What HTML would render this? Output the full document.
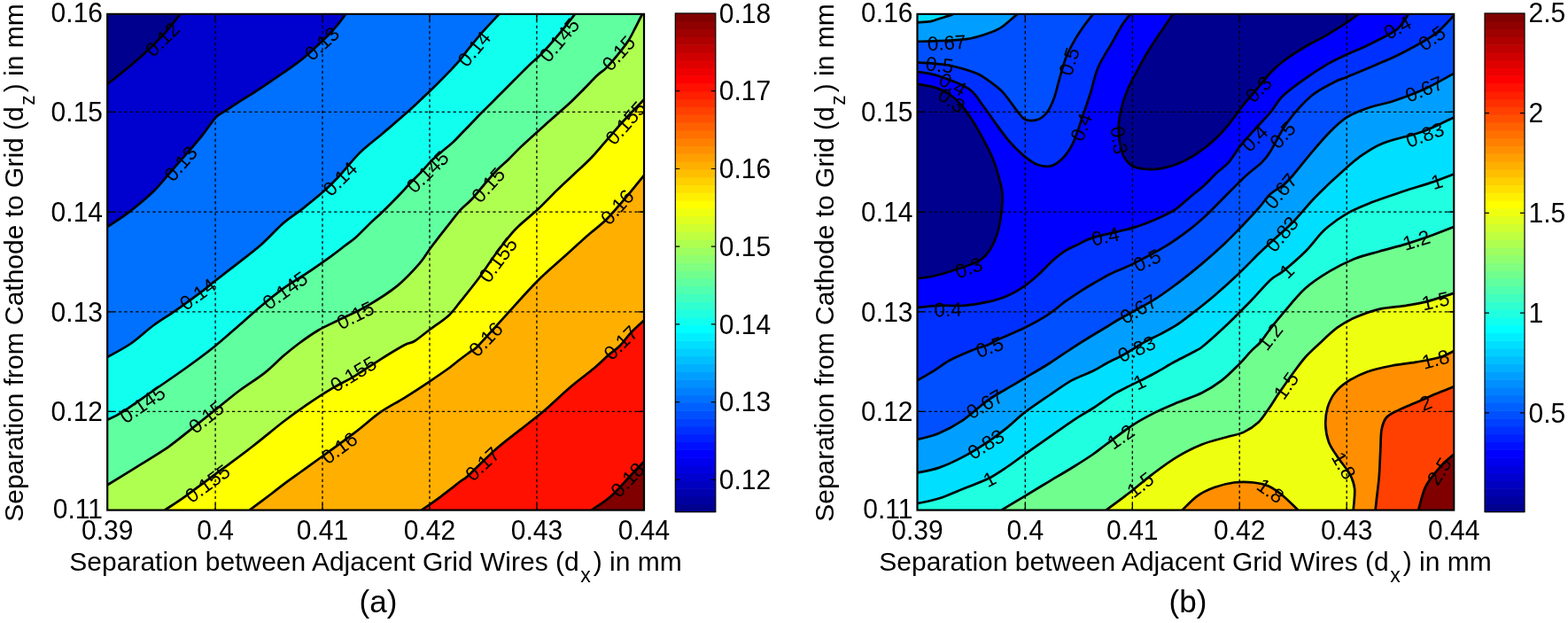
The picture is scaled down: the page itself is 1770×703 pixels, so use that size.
<!DOCTYPE html>
<html><head><meta charset="utf-8"><title>Contour plots</title>
<style>
html,body{margin:0;padding:0;background:#fff;}
body{width:1770px;height:703px;overflow:hidden;}
svg{display:block;}
.t{font-family:'Liberation Sans', Arial, Helvetica, sans-serif;font-size:30px;fill:#000;}
.p{font-family:'Liberation Sans', Arial, Helvetica, sans-serif;font-size:35px;fill:#000;}
.cl{font-family:'Liberation Sans', Arial, Helvetica, sans-serif;font-size:22.5px;fill:#000;text-anchor:middle;}
</style></head><body>
<svg width="1770" height="703" viewBox="0 0 1770 703">
<rect width="1770" height="703" fill="#fff"/>
<clipPath id="ca"><rect x="121.2" y="15.9" width="605.8" height="559.7"/></clipPath>
<g clip-path="url(#ca)">
<rect x="121.2" y="15.9" width="605.8" height="559.7" fill="#00008f"/>
<path d="M121.2 94.9 C125.1 91.8 137.4 82.2 144.7 76.2 C152 70.2 158.1 65 164.8 58.8 C171.5 52.5 178.3 45.9 184.8 38.7 C191.3 31.6 200.5 19.7 203.6 15.9 L727 15.9 L727 575.6 L121.2 575.6 Z" fill="#0000cf"/>
<path d="M121.2 256 C125.3 253.2 137 246.1 145.7 239.4 C154.4 232.7 166.1 222.9 173.5 215.8 C180.9 208.7 183.8 204.2 190.1 197 C196.4 189.8 205.3 179.6 211.6 172.4 C217.8 165.2 222.2 160.4 227.6 153.7 C232.9 147 239.5 136.9 243.7 132.3 C247.9 127.7 249 128.7 253 126 C257 123.3 261.7 120.1 267.7 116.3 C273.7 112.5 282.9 106.9 289.1 102.9 C295.4 98.9 300.1 95.7 305.2 92.2 C310.3 88.7 315.2 85.3 320 82 C324.8 78.7 329.4 75.6 334 72.2 C338.6 68.8 341.1 67.1 347.4 61.5 C353.6 55.9 365.7 44.5 371.5 38.7 C377.3 32.9 379.1 30.5 382.2 26.7 C385.3 22.9 388.9 17.7 390.2 15.9 L727 15.9 L727 575.6 L121.2 575.6 Z" fill="#0070ff"/>
<path d="M121.2 403 C125.7 400.4 139.3 393.5 148 387.5 C156.7 381.5 165.1 373.2 173.5 367 C181.9 360.8 189.2 356.8 198.4 350.3 C207.7 343.8 221.6 333.7 229 328.1 C236.4 322.6 236.3 322.1 242.8 317 C249.3 311.9 259 304.5 267.8 297.6 C276.6 290.7 287 282.9 295.5 275.4 C304 267.9 311.6 259 319 252.5 C326.4 246 333 242.2 340.2 236.6 C347.4 230.9 355.5 224.6 362.4 218.6 C369.3 212.6 374.2 208 381.5 200.3 C388.8 192.6 397.6 180.8 406.2 172.4 C414.8 164 423.9 157.5 433 149.7 C442.1 141.9 452.5 133.2 461 125.6 C469.5 118 476.4 111.3 483.8 104.2 C491.2 97.1 499.2 89.1 505.2 82.9 C511.2 76.7 516.5 70.8 520 66.8 C523.5 62.8 521.9 63.9 526 58.8 C530.1 53.7 538.5 43.2 544.7 36.1 C551 29 560.4 19.3 563.5 15.9 L727 15.9 L727 575.6 L121.2 575.6 Z" fill="#10ffef"/>
<path d="M121.2 473.8 C123.9 472.4 128.7 470.9 137.4 465.4 C146.1 459.8 161.5 448.8 173.5 440.5 C185.5 432.2 197.9 423.8 209.5 415.5 C221.1 407.2 232.2 399.1 242.8 390.5 C253.4 381.9 264.5 371.8 273.3 364.2 C282.1 356.6 287.7 351.3 295.5 344.8 C303.3 338.3 311.6 331.4 320 325.4 C328.4 319.4 336.8 314.7 345.7 308.7 C354.6 302.7 366.1 294.6 373.5 289.3 C380.9 284 385.4 280.3 390 276.8 C394.6 273.3 396.7 272.3 401.2 268.3 C405.7 264.3 412.1 257.5 416.9 252.9 C421.7 248.3 425.9 244.6 429.8 240.9 C433.7 237.2 436.9 234.2 440.5 230.5 C444.1 226.8 447.8 223.2 451.7 219 C455.6 214.8 460.1 209.7 464.1 205.5 C468.1 201.3 471.7 198.1 475.5 194.1 C479.3 190.1 483.1 185.4 486.9 181.6 C490.7 177.8 494.1 175 498.3 171.4 C502.5 167.8 507.9 163.7 511.9 160 C515.9 156.3 518.8 152.8 522 149.5 C525.2 146.2 527.6 143.8 531.3 140 C535 136.2 539.8 131.1 544.1 126.8 C548.4 122.5 552.7 118.3 557 114 C561.3 109.7 565.2 105.7 569.7 101.2 C574.2 96.7 579.2 91.7 584 86.9 C588.8 82.2 593.7 77 598.2 72.7 C602.7 68.4 605.2 67.1 611 61 C616.8 54.9 626.7 43.6 633 36.1 C639.3 28.6 646.3 19.3 649 15.9 L727 15.9 L727 575.6 L121.2 575.6 Z" fill="#60ff9f"/>
<path d="M121.2 547.3 C127.6 543.4 148.1 530.9 159.6 523.7 C171.1 516.5 180.8 510.8 190.1 504.3 C199.3 497.8 206.3 491.8 215.1 484.9 C223.9 478 233.6 470.1 242.8 462.7 C252.1 455.3 261.4 447.4 270.6 440.5 C279.9 433.6 290.1 427.6 298.3 421.1 C306.5 414.6 313.5 407.2 320 401.6 C326.5 396 330.9 392.4 337.5 387.5 C344.1 382.6 352.2 376.9 359.6 372.5 C367 368.1 372.6 366 381.8 361.4 C391.1 356.8 404 351.3 415.1 344.8 C426.2 338.3 438.7 330.5 448.4 322.6 C458.1 314.7 466.8 305 473.3 297.6 C479.8 290.2 481.6 285.6 487.2 278.2 C492.8 270.8 501.1 260.2 506.6 253.3 C512.1 246.4 515.8 241.2 520 236.6 C524.2 232 527.6 230.1 531.9 225.5 C536.2 220.9 541.3 214.4 546 209 C550.7 203.6 555.3 197.9 560 193 C564.7 188.1 569.5 184.3 574.2 179.7 C578.9 175.1 583.2 170.4 588.4 165.4 C593.6 160.4 600.3 154.5 605.5 149.8 C610.7 145.1 615.4 140.8 619.7 137 C624 133.2 626.8 130.8 631.1 127 C635.4 123.2 641 118.3 645.3 114.2 C649.6 110.1 652.3 107.3 657.1 102.5 C661.9 97.7 669.7 89.4 674.2 85.1 C678.8 80.8 680.7 80.3 684.4 76.6 C688.1 72.9 692.4 67.7 696.4 62.9 C700.4 58.1 704.9 52.7 708.3 47.6 C711.7 42.5 714.2 37.1 716.8 32.2 C719.4 27.4 722.2 21.2 723.7 18.5 C725.2 15.8 725.2 16.3 725.5 15.9 L727 15.9 L727 575.6 L121.2 575.6 Z" fill="#afff50"/>
<path d="M186 575.6 C189.9 573 198.7 567.5 209.5 559.8 C220.3 552.1 238.6 538.5 251.1 529.2 C263.6 520 272.9 513.2 284.4 504.3 C295.9 495.4 309.8 483.7 320 475.8 C330.2 467.9 336.8 463.2 345.7 457.1 C354.6 451 364.2 444.7 373.5 439.1 C382.8 433.6 391.9 429.4 401.2 423.8 C410.4 418.2 419.8 411.6 429 405.8 C438.2 400 450.2 392.7 456.7 389.2 C463.2 385.7 463.2 387.8 467.8 385 C472.4 382.2 477.9 377.4 484.4 372.5 C490.9 367.6 500.7 361.3 506.6 355.9 C512.5 350.5 514.4 346.8 520 339.9 C525.6 333 533.6 323.2 540.2 314.3 C546.8 305.4 552.7 295.8 559.6 286.5 C566.5 277.2 573.9 267.1 581.8 258.8 C589.7 250.5 598.9 244 606.8 236.6 C614.7 229.2 622.2 221 629 214.4 C635.8 207.8 641 203.1 647.5 197 C654 190.9 661.2 184.6 667.7 177.8 C674.2 171 680.1 163.5 686.4 156.4 C692.6 149.3 698.4 142.3 705.2 135 C712 127.7 723.4 116.1 727 112.3 L727 575.6 Z" fill="#ffff00"/>
<path d="M281.7 575.6 C285.9 572.5 300.2 561.8 306.6 557 C313 552.2 314.4 550.8 320 546.6 C325.6 542.4 332.7 537.4 340.2 532 C347.7 526.6 355 521.4 365.2 514 C375.4 506.6 390.6 495.7 401.2 487.6 C411.8 479.5 419.8 471.9 429 465.4 C438.2 458.9 447.5 454.6 456.7 448.8 C465.9 443 476.1 436.4 484.4 430.8 C492.7 425.2 500.7 419.8 506.6 415.5 C512.5 411.2 515.8 408.2 520 405 C524.2 401.8 528.6 398.6 531.9 396.1 C535.2 393.6 533.1 397.2 540 390 C546.9 382.8 562.4 365.3 573.5 353.1 C584.6 340.9 596.2 327.6 606.8 317 C617.4 306.4 627.6 298.1 637.3 289.3 C647 280.5 657.1 271.2 665 264.3 C672.9 257.4 677.5 254.6 684.4 247.7 C691.3 240.8 699.5 231 706.6 222.7 C713.7 214.4 723.6 202 727 197.8 L727 575.6 Z" fill="#ffaf00"/>
<path d="M476.1 575.6 C479.8 573 491 565.2 498.3 559.8 C505.6 554.4 514.9 546.9 520 543 C525.1 539.1 522.5 542.2 529.1 536.2 C535.7 530.2 549.9 515.5 559.6 507 C569.3 498.4 578 492.3 587.3 484.9 C596.5 477.5 605.9 470.6 615.1 462.7 C624.4 454.8 633.5 445.6 642.8 437.7 C652 429.8 663.2 421.7 670.6 415.5 C678 409.3 682.3 404.6 687.2 400.3 C692.1 396.1 695.8 394.2 700 390 C704.2 385.8 707.7 380.1 712.2 375.3 C716.7 370.5 724.5 363.7 727 361.4 L727 575.6 Z" fill="#ff1000"/>
<path d="M667.8 575.6 C671.5 573 682.6 566.4 690 559.8 C697.4 553.2 706 542.7 712.2 536.2 C718.4 529.7 724.5 523.5 727 520.9 L727 575.6 Z" fill="#800000"/>
<path d="M243.1 15.9V575.6M364 15.9V575.6M485 15.9V575.6M605.9 15.9V575.6M121.2 126.4H727M121.2 239.1H727M121.2 351.8H727M121.2 464.4H727" stroke="#000" stroke-width="1.3" stroke-dasharray="3.2 3.2" fill="none"/>
<path d="M121.2 94.9 C125.1 91.8 137.4 82.2 144.7 76.2 C152 70.2 158.1 65 164.8 58.8 C171.5 52.5 178.3 45.9 184.8 38.7 C191.3 31.6 200.5 19.7 203.6 15.9 M121.2 256 C125.3 253.2 137 246.1 145.7 239.4 C154.4 232.7 166.1 222.9 173.5 215.8 C180.9 208.7 183.8 204.2 190.1 197 C196.4 189.8 205.3 179.6 211.6 172.4 C217.8 165.2 222.2 160.4 227.6 153.7 C232.9 147 239.5 136.9 243.7 132.3 C247.9 127.7 249 128.7 253 126 C257 123.3 261.7 120.1 267.7 116.3 C273.7 112.5 282.9 106.9 289.1 102.9 C295.4 98.9 300.1 95.7 305.2 92.2 C310.3 88.7 315.2 85.3 320 82 C324.8 78.7 329.4 75.6 334 72.2 C338.6 68.8 341.1 67.1 347.4 61.5 C353.6 55.9 365.7 44.5 371.5 38.7 C377.3 32.9 379.1 30.5 382.2 26.7 C385.3 22.9 388.9 17.7 390.2 15.9 M121.2 403 C125.7 400.4 139.3 393.5 148 387.5 C156.7 381.5 165.1 373.2 173.5 367 C181.9 360.8 189.2 356.8 198.4 350.3 C207.7 343.8 221.6 333.7 229 328.1 C236.4 322.6 236.3 322.1 242.8 317 C249.3 311.9 259 304.5 267.8 297.6 C276.6 290.7 287 282.9 295.5 275.4 C304 267.9 311.6 259 319 252.5 C326.4 246 333 242.2 340.2 236.6 C347.4 230.9 355.5 224.6 362.4 218.6 C369.3 212.6 374.2 208 381.5 200.3 C388.8 192.6 397.6 180.8 406.2 172.4 C414.8 164 423.9 157.5 433 149.7 C442.1 141.9 452.5 133.2 461 125.6 C469.5 118 476.4 111.3 483.8 104.2 C491.2 97.1 499.2 89.1 505.2 82.9 C511.2 76.7 516.5 70.8 520 66.8 C523.5 62.8 521.9 63.9 526 58.8 C530.1 53.7 538.5 43.2 544.7 36.1 C551 29 560.4 19.3 563.5 15.9 M121.2 473.8 C123.9 472.4 128.7 470.9 137.4 465.4 C146.1 459.8 161.5 448.8 173.5 440.5 C185.5 432.2 197.9 423.8 209.5 415.5 C221.1 407.2 232.2 399.1 242.8 390.5 C253.4 381.9 264.5 371.8 273.3 364.2 C282.1 356.6 287.7 351.3 295.5 344.8 C303.3 338.3 311.6 331.4 320 325.4 C328.4 319.4 336.8 314.7 345.7 308.7 C354.6 302.7 366.1 294.6 373.5 289.3 C380.9 284 385.4 280.3 390 276.8 C394.6 273.3 396.7 272.3 401.2 268.3 C405.7 264.3 412.1 257.5 416.9 252.9 C421.7 248.3 425.9 244.6 429.8 240.9 C433.7 237.2 436.9 234.2 440.5 230.5 C444.1 226.8 447.8 223.2 451.7 219 C455.6 214.8 460.1 209.7 464.1 205.5 C468.1 201.3 471.7 198.1 475.5 194.1 C479.3 190.1 483.1 185.4 486.9 181.6 C490.7 177.8 494.1 175 498.3 171.4 C502.5 167.8 507.9 163.7 511.9 160 C515.9 156.3 518.8 152.8 522 149.5 C525.2 146.2 527.6 143.8 531.3 140 C535 136.2 539.8 131.1 544.1 126.8 C548.4 122.5 552.7 118.3 557 114 C561.3 109.7 565.2 105.7 569.7 101.2 C574.2 96.7 579.2 91.7 584 86.9 C588.8 82.2 593.7 77 598.2 72.7 C602.7 68.4 605.2 67.1 611 61 C616.8 54.9 626.7 43.6 633 36.1 C639.3 28.6 646.3 19.3 649 15.9 M121.2 547.3 C127.6 543.4 148.1 530.9 159.6 523.7 C171.1 516.5 180.8 510.8 190.1 504.3 C199.3 497.8 206.3 491.8 215.1 484.9 C223.9 478 233.6 470.1 242.8 462.7 C252.1 455.3 261.4 447.4 270.6 440.5 C279.9 433.6 290.1 427.6 298.3 421.1 C306.5 414.6 313.5 407.2 320 401.6 C326.5 396 330.9 392.4 337.5 387.5 C344.1 382.6 352.2 376.9 359.6 372.5 C367 368.1 372.6 366 381.8 361.4 C391.1 356.8 404 351.3 415.1 344.8 C426.2 338.3 438.7 330.5 448.4 322.6 C458.1 314.7 466.8 305 473.3 297.6 C479.8 290.2 481.6 285.6 487.2 278.2 C492.8 270.8 501.1 260.2 506.6 253.3 C512.1 246.4 515.8 241.2 520 236.6 C524.2 232 527.6 230.1 531.9 225.5 C536.2 220.9 541.3 214.4 546 209 C550.7 203.6 555.3 197.9 560 193 C564.7 188.1 569.5 184.3 574.2 179.7 C578.9 175.1 583.2 170.4 588.4 165.4 C593.6 160.4 600.3 154.5 605.5 149.8 C610.7 145.1 615.4 140.8 619.7 137 C624 133.2 626.8 130.8 631.1 127 C635.4 123.2 641 118.3 645.3 114.2 C649.6 110.1 652.3 107.3 657.1 102.5 C661.9 97.7 669.7 89.4 674.2 85.1 C678.8 80.8 680.7 80.3 684.4 76.6 C688.1 72.9 692.4 67.7 696.4 62.9 C700.4 58.1 704.9 52.7 708.3 47.6 C711.7 42.5 714.2 37.1 716.8 32.2 C719.4 27.4 722.2 21.2 723.7 18.5 C725.2 15.8 725.2 16.3 725.5 15.9 M186 575.6 C189.9 573 198.7 567.5 209.5 559.8 C220.3 552.1 238.6 538.5 251.1 529.2 C263.6 520 272.9 513.2 284.4 504.3 C295.9 495.4 309.8 483.7 320 475.8 C330.2 467.9 336.8 463.2 345.7 457.1 C354.6 451 364.2 444.7 373.5 439.1 C382.8 433.6 391.9 429.4 401.2 423.8 C410.4 418.2 419.8 411.6 429 405.8 C438.2 400 450.2 392.7 456.7 389.2 C463.2 385.7 463.2 387.8 467.8 385 C472.4 382.2 477.9 377.4 484.4 372.5 C490.9 367.6 500.7 361.3 506.6 355.9 C512.5 350.5 514.4 346.8 520 339.9 C525.6 333 533.6 323.2 540.2 314.3 C546.8 305.4 552.7 295.8 559.6 286.5 C566.5 277.2 573.9 267.1 581.8 258.8 C589.7 250.5 598.9 244 606.8 236.6 C614.7 229.2 622.2 221 629 214.4 C635.8 207.8 641 203.1 647.5 197 C654 190.9 661.2 184.6 667.7 177.8 C674.2 171 680.1 163.5 686.4 156.4 C692.6 149.3 698.4 142.3 705.2 135 C712 127.7 723.4 116.1 727 112.3 M281.7 575.6 C285.9 572.5 300.2 561.8 306.6 557 C313 552.2 314.4 550.8 320 546.6 C325.6 542.4 332.7 537.4 340.2 532 C347.7 526.6 355 521.4 365.2 514 C375.4 506.6 390.6 495.7 401.2 487.6 C411.8 479.5 419.8 471.9 429 465.4 C438.2 458.9 447.5 454.6 456.7 448.8 C465.9 443 476.1 436.4 484.4 430.8 C492.7 425.2 500.7 419.8 506.6 415.5 C512.5 411.2 515.8 408.2 520 405 C524.2 401.8 528.6 398.6 531.9 396.1 C535.2 393.6 533.1 397.2 540 390 C546.9 382.8 562.4 365.3 573.5 353.1 C584.6 340.9 596.2 327.6 606.8 317 C617.4 306.4 627.6 298.1 637.3 289.3 C647 280.5 657.1 271.2 665 264.3 C672.9 257.4 677.5 254.6 684.4 247.7 C691.3 240.8 699.5 231 706.6 222.7 C713.7 214.4 723.6 202 727 197.8 M476.1 575.6 C479.8 573 491 565.2 498.3 559.8 C505.6 554.4 514.9 546.9 520 543 C525.1 539.1 522.5 542.2 529.1 536.2 C535.7 530.2 549.9 515.5 559.6 507 C569.3 498.4 578 492.3 587.3 484.9 C596.5 477.5 605.9 470.6 615.1 462.7 C624.4 454.8 633.5 445.6 642.8 437.7 C652 429.8 663.2 421.7 670.6 415.5 C678 409.3 682.3 404.6 687.2 400.3 C692.1 396.1 695.8 394.2 700 390 C704.2 385.8 707.7 380.1 712.2 375.3 C716.7 370.5 724.5 363.7 727 361.4 M667.8 575.6 C671.5 573 682.6 566.4 690 559.8 C697.4 553.2 706 542.7 712.2 536.2 C718.4 529.7 724.5 523.5 727 520.9" stroke="#000" stroke-width="2.7" fill="none" stroke-linejoin="round"/>
<text class="cl" transform="translate(183.5 44.6) rotate(-45)" x="0" y="7.5">0.12</text>
<text class="cl" transform="translate(363.5 49.4) rotate(-43)" x="0" y="7.5">0.13</text>
<text class="cl" transform="translate(204.1 184.7) rotate(-49)" x="0" y="7.5">0.13</text>
<text class="cl" transform="translate(384 202) rotate(-45)" x="0" y="7.5">0.14</text>
<text class="cl" transform="translate(535.4 55.3) rotate(-50)" x="0" y="7.5">0.14</text>
<text class="cl" transform="translate(631.6 45.4) rotate(-50)" x="0" y="7.5">0.145</text>
<text class="cl" transform="translate(698.5 60.1) rotate(-48)" x="0" y="7.5">0.15</text>
<text class="cl" transform="translate(482.9 194.1) rotate(-44.4)" x="0" y="7.5">0.145</text>
<text class="cl" transform="translate(551.3 208.9) rotate(-48)" x="0" y="7.5">0.15</text>
<text class="cl" transform="translate(706.5 139) rotate(-48.7)" x="0" y="7.5">0.155</text>
<text class="cl" transform="translate(696.9 233.8) rotate(-48.4)" x="0" y="7.5">0.16</text>
<text class="cl" transform="translate(562.4 293.5) rotate(-53.5)" x="0" y="7.5">0.155</text>
<text class="cl" transform="translate(223.4 332.3) rotate(-36)" x="0" y="7.5">0.14</text>
<text class="cl" transform="translate(322 328) rotate(-35.7)" x="0" y="7.5">0.145</text>
<text class="cl" transform="translate(401.2 355.9) rotate(-26.5)" x="0" y="7.5">0.15</text>
<text class="cl" transform="translate(161 456.6) rotate(-34.6)" x="0" y="7.5">0.145</text>
<text class="cl" transform="translate(233.1 471) rotate(-38.7)" x="0" y="7.5">0.15</text>
<text class="cl" transform="translate(399 422.4) rotate(-31)" x="0" y="7.5">0.155</text>
<text class="cl" transform="translate(234.5 545.9) rotate(-36.3)" x="0" y="7.5">0.155</text>
<text class="cl" transform="translate(383.2 505.7) rotate(-36.3)" x="0" y="7.5">0.16</text>
<text class="cl" transform="translate(548.5 383) rotate(-46)" x="0" y="7.5">0.16</text>
<text class="cl" transform="translate(544.9 523.7) rotate(-43.7)" x="0" y="7.5">0.17</text>
<text class="cl" transform="translate(701 387) rotate(-45)" x="0" y="7.5">0.17</text>
<text class="cl" transform="translate(708.6 541.7) rotate(-46.7)" x="0" y="7.5">0.18</text>
</g>
<path d="M243.1 575.6v-7M243.1 15.9v7M364 575.6v-7M364 15.9v7M485 575.6v-7M485 15.9v7M605.9 575.6v-7M605.9 15.9v7M121.2 126.4h7M727 126.4h-7M121.2 239.1h7M727 239.1h-7M121.2 351.8h7M727 351.8h-7M121.2 464.4h7M727 464.4h-7" stroke="#000" stroke-width="1.3" fill="none"/>
<rect x="121.2" y="15.9" width="605.8" height="559.7" fill="none" stroke="#000" stroke-width="2.2"/>
<clipPath id="cb"><rect x="1035.5" y="15.9" width="605.7" height="559.7"/></clipPath>
<g clip-path="url(#cb)">
<rect x="1035.5" y="15.9" width="605.7" height="559.7" fill="#0000ff"/>
<path d="M1035.5 94.9 C1038.9 95.6 1050 97 1056.1 98.9 C1062.2 100.8 1067.1 103.2 1072 106.5 C1076.9 109.8 1081 113.8 1085.5 119 C1090 124.2 1094.8 131.5 1098.8 137.7 C1102.8 143.9 1105.9 149.7 1109.5 156.4 C1113.1 163.1 1117.4 171.2 1120.2 177.8 C1123 184.4 1124.7 189.4 1126.5 196 C1128.3 202.6 1130.6 210 1131.3 217.2 C1132 224.4 1131.3 232 1130.5 239.4 C1129.7 246.8 1128.4 254.7 1126.3 261.6 C1124.2 268.5 1121.7 275.4 1118 281 C1114.3 286.6 1111.5 290.7 1104.1 294.9 C1096.7 299.1 1081.9 303.2 1073.6 306 C1065.3 308.8 1060.5 310.1 1054.2 311.5 C1047.9 312.9 1038.6 313.8 1035.5 314.3 Z" fill="#00008f"/>
<path d="M1533.7 15.9 C1531.5 17.5 1526.1 21.6 1520.3 25.4 C1514.5 29.2 1506.9 34.1 1498.9 38.8 C1490.9 43.5 1480.6 48.4 1472.1 53.5 C1463.6 58.6 1454.4 64.7 1448.1 69.5 C1441.8 74.3 1438.8 77.1 1434 82.2 C1429.2 87.3 1424.4 94.1 1419.2 100.2 C1414 106.3 1408.4 112.3 1403.1 119 C1397.8 125.7 1392.4 133.9 1387.1 140.3 C1381.8 146.8 1376.8 152.3 1371 157.7 C1365.2 163 1358.5 168.2 1352.3 172.4 C1346.1 176.6 1340.3 180.2 1333.6 183.1 C1326.9 186 1319.3 188.6 1312.2 189.8 C1305.1 191.1 1296.8 191.3 1290.8 190.6 C1284.8 189.9 1280.1 188.8 1276.1 185.8 C1272.1 182.8 1269 179.1 1266.8 172.4 C1264.6 165.7 1262.9 153.7 1262.7 145.7 C1262.5 137.7 1263.8 131.4 1265.4 124.3 C1267 117.2 1269.2 110 1272.1 102.9 C1275 95.8 1278.8 89.1 1282.8 81.5 C1286.8 73.9 1291.3 65.5 1296.2 57.5 C1301.1 49.5 1307.5 40.3 1312.2 33.4 C1316.9 26.5 1322.2 18.8 1324.2 15.9 Z" fill="#00008f"/>
<path d="M1276.1 15.9 C1274.5 17.9 1270.1 22.9 1266.8 28 C1263.5 33.1 1260.6 38.8 1256.1 46.8 C1251.5 54.8 1243.7 66.5 1239.5 76.2 C1235.3 85.9 1234 95.7 1231 105 C1228 114.3 1225.1 122.9 1221.8 132.3 C1218.5 141.8 1214.7 154.1 1211.1 161.7 C1207.5 169.3 1204.4 173.6 1200.4 177.8 C1196.4 182 1192 185.8 1187.1 187.1 C1182.2 188.4 1176.3 187.8 1171 185.8 C1165.7 183.8 1160.3 179.6 1155 175.1 C1149.7 170.6 1144.3 165.3 1139 159.1 C1133.7 152.9 1127.8 144.4 1122.9 137.7 C1118 131 1114.4 125.2 1109.5 119 C1104.6 112.8 1102 105.8 1093.5 100.2 C1085 94.6 1068.4 88.7 1058.7 85.5 C1049 82.3 1039.4 81.8 1035.5 81 L1035.5 15.9 Z" fill="#0030ff"/>
<path d="M1233.9 15.9 C1232.3 17.9 1227.8 23.3 1224.5 28 C1221.2 32.7 1217.4 37.9 1213.8 44.1 C1210.2 50.4 1206.2 57.5 1203.1 65.5 C1200 73.5 1197.3 84.6 1195.1 92.2 C1192.9 99.8 1192 105.1 1189.8 110.9 C1187.6 116.7 1184.8 123 1181.7 127 C1178.6 131 1175 133.7 1171 135 C1167 136.3 1161.3 136.3 1157.7 135 C1154.1 133.7 1152.3 130.1 1149.6 127 C1146.9 123.9 1144.7 120.3 1141.6 116.3 C1138.5 112.3 1134.9 106.9 1130.9 102.9 C1126.9 98.9 1121.9 95.4 1117.6 92.2 C1113.3 89 1109.9 86.4 1105 84 C1100.1 81.6 1094.6 79.8 1088.3 78 C1082 76.2 1075.8 74.3 1067 73 C1058.2 71.7 1040.8 70.8 1035.5 70.3 L1035.5 15.9 Z" fill="#0050ff"/>
<path d="M1148.3 15.9 C1146.8 17.2 1142.3 21.3 1139 24 C1135.7 26.7 1132.8 29.7 1128.3 32.1 C1123.8 34.6 1118.5 36.7 1112.2 38.7 C1106 40.7 1099.7 42.9 1090.8 44.1 C1081.9 45.4 1067.9 45.8 1058.7 46.2 C1049.5 46.7 1039.4 46.7 1035.5 46.8 L1035.5 15.9 Z" fill="#009fff"/>
<path d="M1076 15.9 C1075 16.3 1072.4 17.3 1070 18.1 C1067.6 18.9 1064.6 19.7 1061.4 20.7 C1058.2 21.7 1055 23.3 1050.7 24.1 C1046.4 24.9 1038 25.1 1035.5 25.3 L1035.5 15.9 Z" fill="#00dfff"/>
<path d="M1035.5 347 C1039.5 346.6 1051 345.2 1059.7 344.8 C1068.4 344.4 1078.2 345.5 1087.5 344.8 C1096.8 344.1 1106.9 342.5 1115.2 340.6 C1123.5 338.8 1130.5 336.7 1137.4 333.7 C1144.3 330.7 1150.8 326.8 1156.8 322.6 C1162.8 318.4 1168.4 313.3 1173.5 308.7 C1178.6 304.1 1182.7 299 1187.3 294.9 C1191.9 290.8 1196.1 287.1 1201.2 283.8 C1206.3 280.6 1212.4 278 1217.9 275.4 C1223.4 272.8 1224 271.1 1234 268.1 C1244 265.1 1266.1 260.8 1277.8 257.4 C1289.5 254 1296 251.2 1304.1 247.7 C1312.2 244.2 1319.8 240.8 1326.3 236.6 C1332.8 232.4 1337.5 227.3 1343 222.7 C1348.5 218.1 1354.5 213.5 1359.6 208.9 C1364.7 204.3 1368.9 199.3 1373.5 195 C1378.1 190.7 1382.6 188.2 1387.1 183.1 C1391.6 178 1395.1 171.1 1400.4 164.4 C1405.8 157.7 1413.6 149.2 1419.2 143 C1424.8 136.8 1429.2 132.8 1434 127 C1438.8 121.2 1441.8 114.5 1448.1 108.3 C1454.4 102.1 1463.6 95.6 1472.1 89.6 C1480.6 83.6 1490.9 76.9 1498.9 72.2 C1506.9 67.5 1512.7 65.1 1520.3 61.5 C1527.9 57.9 1535 55.5 1544.4 50.8 C1553.8 46.1 1568.9 39.2 1576.5 33.4 C1584.1 27.6 1587.7 18.8 1589.9 15.9 L1641.2 15.9 L1641.2 575.6 L1035.5 575.6 Z" fill="#0030ff"/>
<path d="M1035.5 429.4 C1038.6 427.5 1047.9 422.2 1054.2 418.3 C1060.5 414.4 1066.2 409.7 1073.6 405.8 C1081 401.9 1091.7 397.5 1098.6 394.7 C1105.5 391.9 1110.1 391.3 1115.2 389.2 C1120.3 387.1 1122.2 385.2 1129.1 382 C1136 378.8 1148 374.2 1156.8 369.8 C1165.6 365.4 1173.9 361 1181.8 355.9 C1189.7 350.8 1197.5 343.8 1204 339.2 C1210.5 334.6 1215.6 331.3 1220.6 328.1 C1225.6 324.9 1228.4 323.2 1234 320 C1239.6 316.8 1246.7 312.4 1254.2 308.7 C1261.7 305 1269 302.7 1279.2 297.6 C1289.4 292.5 1304.6 284.7 1315.2 278.2 C1325.8 271.7 1335.1 264.8 1343 258.8 C1350.9 252.8 1355.9 248.2 1362.4 242.2 C1368.9 236.2 1375.8 228.7 1381.8 222.7 C1387.8 216.7 1393.9 210.5 1398.4 206.1 C1402.9 201.7 1404.7 199.8 1409 196 C1413.3 192.2 1420.3 187.3 1424.5 183.1 C1428.7 178.9 1429.2 178.6 1434 171 C1438.8 163.4 1445.7 148.2 1453.4 137.8 C1461.1 127.4 1471.3 115.9 1480.2 108.3 C1489.1 100.7 1500.2 95.9 1506.9 92.3 C1513.6 88.7 1512.7 90 1520.3 86.9 C1527.9 83.8 1542.1 78 1552.4 73.5 C1562.7 69 1570.8 66 1581.9 60.2 C1593.1 54.4 1609.4 45.9 1619.3 38.8 C1629.2 31.7 1637.5 21 1641.2 17.4 L1641.2 575.6 L1035.5 575.6 Z" fill="#0050ff"/>
<path d="M1035.5 496 C1039.5 494.8 1051 492.7 1059.7 489 C1068.4 485.3 1078.2 480 1087.5 473.8 C1096.8 467.6 1106 458.1 1115.2 451.6 C1124.5 445.1 1136.1 439.1 1143 434.9 C1149.9 430.7 1149.9 430.8 1156.8 426.6 C1163.7 422.5 1175.8 415.6 1184.6 410 C1193.4 404.4 1201.3 398.6 1209.5 393.3 C1217.7 388 1227.2 382.1 1234 378 C1240.8 373.9 1245 371.5 1250 368.5 C1255 365.5 1255.2 364.9 1263.7 360 C1272.2 355.1 1290.4 345.9 1301.3 339.2 C1312.2 332.5 1319.8 326.7 1329.1 319.8 C1338.3 312.9 1348 305 1356.8 297.6 C1365.6 290.2 1374.4 282.3 1381.8 275.4 C1389.2 268.5 1394.7 262.7 1401.2 256 C1407.7 249.3 1415.1 241.4 1420.6 235.2 C1426.1 229 1429.3 223.4 1434 219 C1438.7 214.6 1444.4 212.3 1448.6 208.9 C1452.8 205.5 1453.7 204.6 1459 198.5 C1464.3 192.4 1473.1 180.9 1480.2 172.6 C1487.3 164.3 1494.9 155.2 1501.6 148.5 C1508.3 141.8 1513.2 136.9 1520.3 132.4 C1527.4 127.9 1535.5 124.8 1544.4 121.7 C1553.3 118.6 1563.1 117.3 1573.8 113.7 C1584.5 110.1 1597.4 105.4 1608.6 100.3 C1619.8 95.2 1635.8 85.8 1641.2 82.9 L1641.2 575.6 L1035.5 575.6 Z" fill="#009fff"/>
<path d="M1035.5 533.4 C1039.5 532.5 1051 530.9 1059.7 527.9 C1068.4 524.9 1078.2 520.3 1087.5 515.4 C1096.8 510.5 1106.9 504.2 1115.2 498.7 C1123.5 493.1 1130.5 487.7 1137.4 482.1 C1144.3 476.6 1148.9 471.4 1156.8 465.4 C1164.7 459.4 1175.8 452 1184.6 446 C1193.4 440 1201.3 434 1209.5 429.4 C1217.7 424.8 1227.2 421.8 1234 418.5 C1240.8 415.2 1244.5 412.4 1250 409.5 C1255.5 406.6 1262.1 403.7 1267.1 401 C1272.1 398.3 1275.6 395.9 1279.9 393.3 C1284.2 390.7 1287.7 388.3 1292.7 385.6 C1297.7 382.9 1304 380.1 1309.7 377.1 C1315.4 374.1 1321.2 371.2 1326.8 367.7 C1332.3 364.2 1335.7 361.6 1343 355.9 C1350.3 350.2 1361.5 341.6 1370.7 333.7 C1379.9 325.8 1390.1 316.6 1398.4 308.7 C1406.7 300.8 1414.7 292.3 1420.6 286.5 C1426.5 280.7 1427.5 280 1434 274 C1440.5 268 1451.7 258.6 1459.7 250.5 C1467.7 242.4 1475.4 232.4 1481.9 225.5 C1488.4 218.6 1493.8 213.6 1498.6 208.9 C1503.4 204.2 1505.2 202.7 1511 197.5 C1516.8 192.3 1525.5 183.8 1533.7 177.9 C1541.9 172 1548.4 166.8 1560.4 161.9 C1572.4 157 1592.4 153.4 1605.9 148.5 C1619.4 143.6 1635.3 135.1 1641.2 132.4 L1641.2 575.6 L1035.5 575.6 Z" fill="#00dfff"/>
<path d="M1035.5 568.1 C1039.5 567.2 1051 565.3 1059.7 562.5 C1068.4 559.7 1078.2 555.1 1087.5 551.4 C1096.8 547.7 1106.9 544.4 1115.2 540.3 C1123.5 536.1 1130.5 531.1 1137.4 526.5 C1144.3 521.9 1148.9 518.1 1156.8 512.6 C1164.7 507.1 1175.3 499.7 1184.6 493.2 C1193.8 486.7 1204.1 479.2 1212.3 473.8 C1220.5 468.4 1226.1 465.6 1234 460.5 C1241.9 455.4 1250.8 448.5 1259.7 443.3 C1268.6 438.1 1279.9 433.3 1287.5 429.4 C1295.1 425.5 1299 423.6 1305.5 420 C1312 416.4 1319.4 411.8 1326.8 407.8 C1334.2 403.8 1344.5 398.9 1350 395.8 C1355.5 392.7 1353.8 394.3 1360 389 C1366.2 383.7 1378.6 372.5 1387.3 364.2 C1396 355.9 1404.5 347.2 1412.3 339.2 C1420.1 331.2 1428 321.6 1434 316 C1440 310.4 1442 311.3 1448.6 305.9 C1455.2 300.5 1465.7 291.5 1473.6 283.7 C1481.5 275.9 1487.9 265.9 1495.8 258.8 C1503.7 251.7 1511.9 245.9 1520.7 240.8 C1529.5 235.7 1537.9 232.5 1548.5 228.3 C1559.1 224.1 1573.4 219.5 1584.5 215.8 C1595.6 212.1 1605.5 209.3 1615 206.1 C1624.5 202.9 1636.8 198 1641.2 196.4 L1641.2 575.6 L1035.5 575.6 Z" fill="#20ffdf"/>
<path d="M1130.5 575.6 C1134.9 573 1147.8 565.2 1156.8 559.8 C1165.8 554.4 1175.3 548.6 1184.6 543.1 C1193.8 537.6 1204.1 531.6 1212.3 526.5 C1220.5 521.4 1228 516.7 1234 512.5 C1240 508.3 1241.1 507 1248.6 501.5 C1256.1 496 1270 485.3 1279.2 479.3 C1288.5 473.3 1295.8 469.6 1304.1 465.4 C1312.4 461.2 1320.3 458 1329.1 454.3 C1337.9 450.6 1348.5 447.5 1356.8 443.3 C1365.1 439.1 1372.1 434.7 1379 429.4 C1385.9 424.1 1392.9 416.9 1398.4 411.4 C1404 405.8 1408.2 400.3 1412.3 396.1 C1416.4 391.9 1419.4 390.2 1423 386 C1426.6 381.8 1429.7 376.5 1434 371 C1438.3 365.5 1442 360.7 1448.6 353.1 C1455.2 345.5 1464.8 333.2 1473.6 325.3 C1482.4 317.4 1492 311.4 1501.3 305.9 C1510.5 300.4 1519.8 295.8 1529.1 292.1 C1538.3 288.4 1547.1 286.5 1556.8 283.7 C1566.5 280.9 1578 278.2 1587.3 275.4 C1596.5 272.6 1603.3 270.3 1612.3 267.1 C1621.3 263.9 1636.4 257.9 1641.2 256 L1641.2 575.6 Z" fill="#70ff8f"/>
<path d="M1248.6 575.6 C1252.8 572.5 1264.8 563.8 1273.6 557 C1282.4 550.2 1292 541.7 1301.3 534.8 C1310.5 527.9 1319.8 520.9 1329.1 515.4 C1338.3 509.8 1347.5 505.2 1356.8 501.5 C1366 497.8 1376.7 495.5 1384.6 493.2 C1392.5 490.9 1398 490.4 1404 487.6 C1410 484.8 1415.9 480.9 1420.6 476.5 C1425.3 472.1 1428.2 466.8 1432 461.5 C1435.8 456.2 1438.5 451.4 1443.1 444.6 C1447.7 437.9 1454.6 427.9 1459.7 421 C1464.8 414.1 1468.7 408.5 1473.6 403 C1478.5 397.5 1483 393.6 1489 388 C1495 382.4 1502.9 374.6 1509.6 369.7 C1516.3 364.8 1521.2 362.1 1529.1 358.6 C1537 355.1 1547.1 351.2 1556.8 348.9 C1566.5 346.6 1578.5 346.2 1587.3 344.8 C1596.1 343.4 1600.5 342.9 1609.5 340.6 C1618.5 338.3 1635.9 332.5 1641.2 330.9 L1641.2 575.6 Z" fill="#efff10"/>
<path d="M1527.7 575.6 C1527.9 571.6 1529.8 558.2 1529.1 551.4 C1528.4 544.6 1526.8 540.7 1523.5 534.7 C1520.2 528.7 1513.5 521.3 1509.6 515.3 C1505.7 509.3 1502.1 504.7 1499.9 498.7 C1497.7 492.7 1496.5 485.8 1496.3 479.3 C1496.1 472.8 1496.8 465.9 1498.6 459.9 C1500.4 453.9 1503.2 448 1506.9 443.2 C1510.6 438.4 1514.7 434.7 1520.7 430.8 C1526.7 426.9 1534.6 422.7 1542.9 419.7 C1551.2 416.7 1561.5 414.5 1570.7 412.7 C1580 410.9 1589.2 410.2 1598.4 408.6 C1607.6 407 1619 405.1 1626.1 403 C1633.2 400.9 1638.7 397.2 1641.2 396.1 L1641.2 575.6 Z" fill="#ff8f00"/>
<path d="M1334.6 575.6 C1337.4 573 1345.3 564.1 1351.3 559.8 C1357.3 555.5 1363.8 552.5 1370.7 550 C1377.6 547.5 1385.5 545.4 1392.9 544.5 C1400.3 543.6 1408.6 543.8 1415.1 544.5 C1421.6 545.2 1426.4 546.1 1432 548.6 C1437.6 551.1 1443 555.2 1448.6 559.7 C1454.1 564.2 1462.5 573 1465.3 575.6 Z" fill="#ff8f00"/>
<path d="M1552.6 575.6 C1552.8 573.4 1553.3 568.9 1554 562.5 C1554.7 556.1 1556.1 546.3 1556.8 537.5 C1557.5 528.7 1557.7 518.6 1558.2 509.8 C1558.7 501 1558.4 491.3 1559.6 484.8 C1560.8 478.3 1561.9 474.7 1565.1 471 C1568.3 467.3 1573.5 465.4 1579 462.6 C1584.5 459.8 1591.5 457.3 1598.4 454.3 C1605.3 451.3 1613.5 447.6 1620.6 444.6 C1627.7 441.6 1637.8 437.7 1641.2 436.3 L1641.2 575.6 Z" fill="#ff4000"/>
<path d="M1601.2 575.6 C1602.6 571.1 1605.3 556.8 1609.5 548.6 C1613.7 540.4 1620.8 532.4 1626.1 526.4 C1631.4 520.4 1638.7 514.9 1641.2 512.6 L1641.2 575.6 Z" fill="#800000"/>
<path d="M1157.3 15.9V575.6M1278.3 15.9V575.6M1399.2 15.9V575.6M1520.2 15.9V575.6M1035.5 126.4H1641.2M1035.5 239.1H1641.2M1035.5 351.8H1641.2M1035.5 464.4H1641.2" stroke="#000" stroke-width="1.3" stroke-dasharray="3.2 3.2" fill="none"/>
<path d="M1035.5 94.9 C1038.9 95.6 1050 97 1056.1 98.9 C1062.2 100.8 1067.1 103.2 1072 106.5 C1076.9 109.8 1081 113.8 1085.5 119 C1090 124.2 1094.8 131.5 1098.8 137.7 C1102.8 143.9 1105.9 149.7 1109.5 156.4 C1113.1 163.1 1117.4 171.2 1120.2 177.8 C1123 184.4 1124.7 189.4 1126.5 196 C1128.3 202.6 1130.6 210 1131.3 217.2 C1132 224.4 1131.3 232 1130.5 239.4 C1129.7 246.8 1128.4 254.7 1126.3 261.6 C1124.2 268.5 1121.7 275.4 1118 281 C1114.3 286.6 1111.5 290.7 1104.1 294.9 C1096.7 299.1 1081.9 303.2 1073.6 306 C1065.3 308.8 1060.5 310.1 1054.2 311.5 C1047.9 312.9 1038.6 313.8 1035.5 314.3 M1533.7 15.9 C1531.5 17.5 1526.1 21.6 1520.3 25.4 C1514.5 29.2 1506.9 34.1 1498.9 38.8 C1490.9 43.5 1480.6 48.4 1472.1 53.5 C1463.6 58.6 1454.4 64.7 1448.1 69.5 C1441.8 74.3 1438.8 77.1 1434 82.2 C1429.2 87.3 1424.4 94.1 1419.2 100.2 C1414 106.3 1408.4 112.3 1403.1 119 C1397.8 125.7 1392.4 133.9 1387.1 140.3 C1381.8 146.8 1376.8 152.3 1371 157.7 C1365.2 163 1358.5 168.2 1352.3 172.4 C1346.1 176.6 1340.3 180.2 1333.6 183.1 C1326.9 186 1319.3 188.6 1312.2 189.8 C1305.1 191.1 1296.8 191.3 1290.8 190.6 C1284.8 189.9 1280.1 188.8 1276.1 185.8 C1272.1 182.8 1269 179.1 1266.8 172.4 C1264.6 165.7 1262.9 153.7 1262.7 145.7 C1262.5 137.7 1263.8 131.4 1265.4 124.3 C1267 117.2 1269.2 110 1272.1 102.9 C1275 95.8 1278.8 89.1 1282.8 81.5 C1286.8 73.9 1291.3 65.5 1296.2 57.5 C1301.1 49.5 1307.5 40.3 1312.2 33.4 C1316.9 26.5 1322.2 18.8 1324.2 15.9 M1276.1 15.9 C1274.5 17.9 1270.1 22.9 1266.8 28 C1263.5 33.1 1260.6 38.8 1256.1 46.8 C1251.5 54.8 1243.7 66.5 1239.5 76.2 C1235.3 85.9 1234 95.7 1231 105 C1228 114.3 1225.1 122.9 1221.8 132.3 C1218.5 141.8 1214.7 154.1 1211.1 161.7 C1207.5 169.3 1204.4 173.6 1200.4 177.8 C1196.4 182 1192 185.8 1187.1 187.1 C1182.2 188.4 1176.3 187.8 1171 185.8 C1165.7 183.8 1160.3 179.6 1155 175.1 C1149.7 170.6 1144.3 165.3 1139 159.1 C1133.7 152.9 1127.8 144.4 1122.9 137.7 C1118 131 1114.4 125.2 1109.5 119 C1104.6 112.8 1102 105.8 1093.5 100.2 C1085 94.6 1068.4 88.7 1058.7 85.5 C1049 82.3 1039.4 81.8 1035.5 81 M1233.9 15.9 C1232.3 17.9 1227.8 23.3 1224.5 28 C1221.2 32.7 1217.4 37.9 1213.8 44.1 C1210.2 50.4 1206.2 57.5 1203.1 65.5 C1200 73.5 1197.3 84.6 1195.1 92.2 C1192.9 99.8 1192 105.1 1189.8 110.9 C1187.6 116.7 1184.8 123 1181.7 127 C1178.6 131 1175 133.7 1171 135 C1167 136.3 1161.3 136.3 1157.7 135 C1154.1 133.7 1152.3 130.1 1149.6 127 C1146.9 123.9 1144.7 120.3 1141.6 116.3 C1138.5 112.3 1134.9 106.9 1130.9 102.9 C1126.9 98.9 1121.9 95.4 1117.6 92.2 C1113.3 89 1109.9 86.4 1105 84 C1100.1 81.6 1094.6 79.8 1088.3 78 C1082 76.2 1075.8 74.3 1067 73 C1058.2 71.7 1040.8 70.8 1035.5 70.3 M1148.3 15.9 C1146.8 17.2 1142.3 21.3 1139 24 C1135.7 26.7 1132.8 29.7 1128.3 32.1 C1123.8 34.6 1118.5 36.7 1112.2 38.7 C1106 40.7 1099.7 42.9 1090.8 44.1 C1081.9 45.4 1067.9 45.8 1058.7 46.2 C1049.5 46.7 1039.4 46.7 1035.5 46.8 M1076 15.9 C1075 16.3 1072.4 17.3 1070 18.1 C1067.6 18.9 1064.6 19.7 1061.4 20.7 C1058.2 21.7 1055 23.3 1050.7 24.1 C1046.4 24.9 1038 25.1 1035.5 25.3 M1035.5 347 C1039.5 346.6 1051 345.2 1059.7 344.8 C1068.4 344.4 1078.2 345.5 1087.5 344.8 C1096.8 344.1 1106.9 342.5 1115.2 340.6 C1123.5 338.8 1130.5 336.7 1137.4 333.7 C1144.3 330.7 1150.8 326.8 1156.8 322.6 C1162.8 318.4 1168.4 313.3 1173.5 308.7 C1178.6 304.1 1182.7 299 1187.3 294.9 C1191.9 290.8 1196.1 287.1 1201.2 283.8 C1206.3 280.6 1212.4 278 1217.9 275.4 C1223.4 272.8 1224 271.1 1234 268.1 C1244 265.1 1266.1 260.8 1277.8 257.4 C1289.5 254 1296 251.2 1304.1 247.7 C1312.2 244.2 1319.8 240.8 1326.3 236.6 C1332.8 232.4 1337.5 227.3 1343 222.7 C1348.5 218.1 1354.5 213.5 1359.6 208.9 C1364.7 204.3 1368.9 199.3 1373.5 195 C1378.1 190.7 1382.6 188.2 1387.1 183.1 C1391.6 178 1395.1 171.1 1400.4 164.4 C1405.8 157.7 1413.6 149.2 1419.2 143 C1424.8 136.8 1429.2 132.8 1434 127 C1438.8 121.2 1441.8 114.5 1448.1 108.3 C1454.4 102.1 1463.6 95.6 1472.1 89.6 C1480.6 83.6 1490.9 76.9 1498.9 72.2 C1506.9 67.5 1512.7 65.1 1520.3 61.5 C1527.9 57.9 1535 55.5 1544.4 50.8 C1553.8 46.1 1568.9 39.2 1576.5 33.4 C1584.1 27.6 1587.7 18.8 1589.9 15.9 M1035.5 429.4 C1038.6 427.5 1047.9 422.2 1054.2 418.3 C1060.5 414.4 1066.2 409.7 1073.6 405.8 C1081 401.9 1091.7 397.5 1098.6 394.7 C1105.5 391.9 1110.1 391.3 1115.2 389.2 C1120.3 387.1 1122.2 385.2 1129.1 382 C1136 378.8 1148 374.2 1156.8 369.8 C1165.6 365.4 1173.9 361 1181.8 355.9 C1189.7 350.8 1197.5 343.8 1204 339.2 C1210.5 334.6 1215.6 331.3 1220.6 328.1 C1225.6 324.9 1228.4 323.2 1234 320 C1239.6 316.8 1246.7 312.4 1254.2 308.7 C1261.7 305 1269 302.7 1279.2 297.6 C1289.4 292.5 1304.6 284.7 1315.2 278.2 C1325.8 271.7 1335.1 264.8 1343 258.8 C1350.9 252.8 1355.9 248.2 1362.4 242.2 C1368.9 236.2 1375.8 228.7 1381.8 222.7 C1387.8 216.7 1393.9 210.5 1398.4 206.1 C1402.9 201.7 1404.7 199.8 1409 196 C1413.3 192.2 1420.3 187.3 1424.5 183.1 C1428.7 178.9 1429.2 178.6 1434 171 C1438.8 163.4 1445.7 148.2 1453.4 137.8 C1461.1 127.4 1471.3 115.9 1480.2 108.3 C1489.1 100.7 1500.2 95.9 1506.9 92.3 C1513.6 88.7 1512.7 90 1520.3 86.9 C1527.9 83.8 1542.1 78 1552.4 73.5 C1562.7 69 1570.8 66 1581.9 60.2 C1593.1 54.4 1609.4 45.9 1619.3 38.8 C1629.2 31.7 1637.5 21 1641.2 17.4 M1035.5 496 C1039.5 494.8 1051 492.7 1059.7 489 C1068.4 485.3 1078.2 480 1087.5 473.8 C1096.8 467.6 1106 458.1 1115.2 451.6 C1124.5 445.1 1136.1 439.1 1143 434.9 C1149.9 430.7 1149.9 430.8 1156.8 426.6 C1163.7 422.5 1175.8 415.6 1184.6 410 C1193.4 404.4 1201.3 398.6 1209.5 393.3 C1217.7 388 1227.2 382.1 1234 378 C1240.8 373.9 1245 371.5 1250 368.5 C1255 365.5 1255.2 364.9 1263.7 360 C1272.2 355.1 1290.4 345.9 1301.3 339.2 C1312.2 332.5 1319.8 326.7 1329.1 319.8 C1338.3 312.9 1348 305 1356.8 297.6 C1365.6 290.2 1374.4 282.3 1381.8 275.4 C1389.2 268.5 1394.7 262.7 1401.2 256 C1407.7 249.3 1415.1 241.4 1420.6 235.2 C1426.1 229 1429.3 223.4 1434 219 C1438.7 214.6 1444.4 212.3 1448.6 208.9 C1452.8 205.5 1453.7 204.6 1459 198.5 C1464.3 192.4 1473.1 180.9 1480.2 172.6 C1487.3 164.3 1494.9 155.2 1501.6 148.5 C1508.3 141.8 1513.2 136.9 1520.3 132.4 C1527.4 127.9 1535.5 124.8 1544.4 121.7 C1553.3 118.6 1563.1 117.3 1573.8 113.7 C1584.5 110.1 1597.4 105.4 1608.6 100.3 C1619.8 95.2 1635.8 85.8 1641.2 82.9 M1035.5 533.4 C1039.5 532.5 1051 530.9 1059.7 527.9 C1068.4 524.9 1078.2 520.3 1087.5 515.4 C1096.8 510.5 1106.9 504.2 1115.2 498.7 C1123.5 493.1 1130.5 487.7 1137.4 482.1 C1144.3 476.6 1148.9 471.4 1156.8 465.4 C1164.7 459.4 1175.8 452 1184.6 446 C1193.4 440 1201.3 434 1209.5 429.4 C1217.7 424.8 1227.2 421.8 1234 418.5 C1240.8 415.2 1244.5 412.4 1250 409.5 C1255.5 406.6 1262.1 403.7 1267.1 401 C1272.1 398.3 1275.6 395.9 1279.9 393.3 C1284.2 390.7 1287.7 388.3 1292.7 385.6 C1297.7 382.9 1304 380.1 1309.7 377.1 C1315.4 374.1 1321.2 371.2 1326.8 367.7 C1332.3 364.2 1335.7 361.6 1343 355.9 C1350.3 350.2 1361.5 341.6 1370.7 333.7 C1379.9 325.8 1390.1 316.6 1398.4 308.7 C1406.7 300.8 1414.7 292.3 1420.6 286.5 C1426.5 280.7 1427.5 280 1434 274 C1440.5 268 1451.7 258.6 1459.7 250.5 C1467.7 242.4 1475.4 232.4 1481.9 225.5 C1488.4 218.6 1493.8 213.6 1498.6 208.9 C1503.4 204.2 1505.2 202.7 1511 197.5 C1516.8 192.3 1525.5 183.8 1533.7 177.9 C1541.9 172 1548.4 166.8 1560.4 161.9 C1572.4 157 1592.4 153.4 1605.9 148.5 C1619.4 143.6 1635.3 135.1 1641.2 132.4 M1035.5 568.1 C1039.5 567.2 1051 565.3 1059.7 562.5 C1068.4 559.7 1078.2 555.1 1087.5 551.4 C1096.8 547.7 1106.9 544.4 1115.2 540.3 C1123.5 536.1 1130.5 531.1 1137.4 526.5 C1144.3 521.9 1148.9 518.1 1156.8 512.6 C1164.7 507.1 1175.3 499.7 1184.6 493.2 C1193.8 486.7 1204.1 479.2 1212.3 473.8 C1220.5 468.4 1226.1 465.6 1234 460.5 C1241.9 455.4 1250.8 448.5 1259.7 443.3 C1268.6 438.1 1279.9 433.3 1287.5 429.4 C1295.1 425.5 1299 423.6 1305.5 420 C1312 416.4 1319.4 411.8 1326.8 407.8 C1334.2 403.8 1344.5 398.9 1350 395.8 C1355.5 392.7 1353.8 394.3 1360 389 C1366.2 383.7 1378.6 372.5 1387.3 364.2 C1396 355.9 1404.5 347.2 1412.3 339.2 C1420.1 331.2 1428 321.6 1434 316 C1440 310.4 1442 311.3 1448.6 305.9 C1455.2 300.5 1465.7 291.5 1473.6 283.7 C1481.5 275.9 1487.9 265.9 1495.8 258.8 C1503.7 251.7 1511.9 245.9 1520.7 240.8 C1529.5 235.7 1537.9 232.5 1548.5 228.3 C1559.1 224.1 1573.4 219.5 1584.5 215.8 C1595.6 212.1 1605.5 209.3 1615 206.1 C1624.5 202.9 1636.8 198 1641.2 196.4 M1130.5 575.6 C1134.9 573 1147.8 565.2 1156.8 559.8 C1165.8 554.4 1175.3 548.6 1184.6 543.1 C1193.8 537.6 1204.1 531.6 1212.3 526.5 C1220.5 521.4 1228 516.7 1234 512.5 C1240 508.3 1241.1 507 1248.6 501.5 C1256.1 496 1270 485.3 1279.2 479.3 C1288.5 473.3 1295.8 469.6 1304.1 465.4 C1312.4 461.2 1320.3 458 1329.1 454.3 C1337.9 450.6 1348.5 447.5 1356.8 443.3 C1365.1 439.1 1372.1 434.7 1379 429.4 C1385.9 424.1 1392.9 416.9 1398.4 411.4 C1404 405.8 1408.2 400.3 1412.3 396.1 C1416.4 391.9 1419.4 390.2 1423 386 C1426.6 381.8 1429.7 376.5 1434 371 C1438.3 365.5 1442 360.7 1448.6 353.1 C1455.2 345.5 1464.8 333.2 1473.6 325.3 C1482.4 317.4 1492 311.4 1501.3 305.9 C1510.5 300.4 1519.8 295.8 1529.1 292.1 C1538.3 288.4 1547.1 286.5 1556.8 283.7 C1566.5 280.9 1578 278.2 1587.3 275.4 C1596.5 272.6 1603.3 270.3 1612.3 267.1 C1621.3 263.9 1636.4 257.9 1641.2 256 M1248.6 575.6 C1252.8 572.5 1264.8 563.8 1273.6 557 C1282.4 550.2 1292 541.7 1301.3 534.8 C1310.5 527.9 1319.8 520.9 1329.1 515.4 C1338.3 509.8 1347.5 505.2 1356.8 501.5 C1366 497.8 1376.7 495.5 1384.6 493.2 C1392.5 490.9 1398 490.4 1404 487.6 C1410 484.8 1415.9 480.9 1420.6 476.5 C1425.3 472.1 1428.2 466.8 1432 461.5 C1435.8 456.2 1438.5 451.4 1443.1 444.6 C1447.7 437.9 1454.6 427.9 1459.7 421 C1464.8 414.1 1468.7 408.5 1473.6 403 C1478.5 397.5 1483 393.6 1489 388 C1495 382.4 1502.9 374.6 1509.6 369.7 C1516.3 364.8 1521.2 362.1 1529.1 358.6 C1537 355.1 1547.1 351.2 1556.8 348.9 C1566.5 346.6 1578.5 346.2 1587.3 344.8 C1596.1 343.4 1600.5 342.9 1609.5 340.6 C1618.5 338.3 1635.9 332.5 1641.2 330.9 M1527.7 575.6 C1527.9 571.6 1529.8 558.2 1529.1 551.4 C1528.4 544.6 1526.8 540.7 1523.5 534.7 C1520.2 528.7 1513.5 521.3 1509.6 515.3 C1505.7 509.3 1502.1 504.7 1499.9 498.7 C1497.7 492.7 1496.5 485.8 1496.3 479.3 C1496.1 472.8 1496.8 465.9 1498.6 459.9 C1500.4 453.9 1503.2 448 1506.9 443.2 C1510.6 438.4 1514.7 434.7 1520.7 430.8 C1526.7 426.9 1534.6 422.7 1542.9 419.7 C1551.2 416.7 1561.5 414.5 1570.7 412.7 C1580 410.9 1589.2 410.2 1598.4 408.6 C1607.6 407 1619 405.1 1626.1 403 C1633.2 400.9 1638.7 397.2 1641.2 396.1 M1334.6 575.6 C1337.4 573 1345.3 564.1 1351.3 559.8 C1357.3 555.5 1363.8 552.5 1370.7 550 C1377.6 547.5 1385.5 545.4 1392.9 544.5 C1400.3 543.6 1408.6 543.8 1415.1 544.5 C1421.6 545.2 1426.4 546.1 1432 548.6 C1437.6 551.1 1443 555.2 1448.6 559.7 C1454.1 564.2 1462.5 573 1465.3 575.6 M1552.6 575.6 C1552.8 573.4 1553.3 568.9 1554 562.5 C1554.7 556.1 1556.1 546.3 1556.8 537.5 C1557.5 528.7 1557.7 518.6 1558.2 509.8 C1558.7 501 1558.4 491.3 1559.6 484.8 C1560.8 478.3 1561.9 474.7 1565.1 471 C1568.3 467.3 1573.5 465.4 1579 462.6 C1584.5 459.8 1591.5 457.3 1598.4 454.3 C1605.3 451.3 1613.5 447.6 1620.6 444.6 C1627.7 441.6 1637.8 437.7 1641.2 436.3 M1601.2 575.6 C1602.6 571.1 1605.3 556.8 1609.5 548.6 C1613.7 540.4 1620.8 532.4 1626.1 526.4 C1631.4 520.4 1638.7 514.9 1641.2 512.6" stroke="#000" stroke-width="2.7" fill="none" stroke-linejoin="round"/>
<text class="cl" transform="translate(1068.6 48.6) rotate(-3)" x="0" y="7.5">0.67</text>
<text class="cl" transform="translate(1060.6 73.5) rotate(6)" x="0" y="7.5">0.5</text>
<text class="cl" transform="translate(1075.3 95.4) rotate(28)" x="0" y="7.5">0.4</text>
<text class="cl" transform="translate(1074 113.6) rotate(35)" x="0" y="7.5">0.3</text>
<text class="cl" transform="translate(1207.1 69.5) rotate(-72)" x="0" y="7.5">0.5</text>
<text class="cl" transform="translate(1221 143.6) rotate(-68)" x="0" y="7.5">0.4</text>
<text class="cl" transform="translate(1263 158.3) rotate(82)" x="0" y="7.5">0.3</text>
<text class="cl" transform="translate(1421 100.8) rotate(-45)" x="0" y="7.5">0.3</text>
<text class="cl" transform="translate(1416.5 156.4) rotate(-45)" x="0" y="7.5">0.4</text>
<text class="cl" transform="translate(1577.8 31.3) rotate(-28)" x="0" y="7.5">0.4</text>
<text class="cl" transform="translate(1616.6 43.3) rotate(-35)" x="0" y="7.5">0.5</text>
<text class="cl" transform="translate(1607.8 100.8) rotate(-22)" x="0" y="7.5">0.67</text>
<text class="cl" transform="translate(1608.6 152.5) rotate(-20)" x="0" y="7.5">0.83</text>
<text class="cl" transform="translate(1448.1 152.5) rotate(-48)" x="0" y="7.5">0.5</text>
<text class="cl" transform="translate(1093.6 302.4) rotate(-20)" x="0" y="7.5">0.3</text>
<text class="cl" transform="translate(1070 349.5) rotate(-2)" x="0" y="7.5">0.4</text>
<text class="cl" transform="translate(1247.8 267.1) rotate(-12)" x="0" y="7.5">0.4</text>
<text class="cl" transform="translate(1295 294) rotate(-25)" x="0" y="7.5">0.5</text>
<text class="cl" transform="translate(1285.3 349) rotate(-30)" x="0" y="7.5">0.67</text>
<text class="cl" transform="translate(1445.9 215.8) rotate(-50)" x="0" y="7.5">0.67</text>
<text class="cl" transform="translate(1447.3 264.3) rotate(-50)" x="0" y="7.5">0.83</text>
<text class="cl" transform="translate(1452.8 306) rotate(-45)" x="0" y="7.5">1</text>
<text class="cl" transform="translate(1622 205.3) rotate(-17)" x="0" y="7.5">1</text>
<text class="cl" transform="translate(1598.9 271.3) rotate(-17)" x="0" y="7.5">1.2</text>
<text class="cl" transform="translate(1620.6 339.8) rotate(-12)" x="0" y="7.5">1.5</text>
<text class="cl" transform="translate(1117.2 391.9) rotate(-20)" x="0" y="7.5">0.5</text>
<text class="cl" transform="translate(1111.6 456.3) rotate(-30)" x="0" y="7.5">0.67</text>
<text class="cl" transform="translate(1113 501.5) rotate(-32)" x="0" y="7.5">0.83</text>
<text class="cl" transform="translate(1117.2 540.9) rotate(-27)" x="0" y="7.5">1</text>
<text class="cl" transform="translate(1283.3 394.1) rotate(-23)" x="0" y="7.5">0.83</text>
<text class="cl" transform="translate(1286.6 431.3) rotate(-25)" x="0" y="7.5">1</text>
<text class="cl" transform="translate(1265.3 493.2) rotate(-35)" x="0" y="7.5">1.2</text>
<text class="cl" transform="translate(1434 380) rotate(-52)" x="0" y="7.5">1.2</text>
<text class="cl" transform="translate(1287.5 547.3) rotate(-38)" x="0" y="7.5">1.5</text>
<text class="cl" transform="translate(1434 554) rotate(35)" x="0" y="7.5">1.8</text>
<text class="cl" transform="translate(1452 435.5) rotate(-55)" x="0" y="7.5">1.5</text>
<text class="cl" transform="translate(1620.6 405.8) rotate(-15)" x="0" y="7.5">1.8</text>
<text class="cl" transform="translate(1609.5 454.9) rotate(-22)" x="0" y="7.5">2</text>
<text class="cl" transform="translate(1516.6 525.6) rotate(60)" x="0" y="7.5">1.8</text>
<text class="cl" transform="translate(1625 532) rotate(-58)" x="0" y="7.5">2.5</text>
</g>
<path d="M1157.3 575.6v-7M1157.3 15.9v7M1278.3 575.6v-7M1278.3 15.9v7M1399.2 575.6v-7M1399.2 15.9v7M1520.2 575.6v-7M1520.2 15.9v7M1035.5 126.4h7M1641.2 126.4h-7M1035.5 239.1h7M1641.2 239.1h-7M1035.5 351.8h7M1641.2 351.8h-7M1035.5 464.4h7M1641.2 464.4h-7" stroke="#000" stroke-width="1.3" fill="none"/>
<rect x="1035.5" y="15.9" width="605.7" height="559.7" fill="none" stroke="#000" stroke-width="2.2"/>
<rect x="762.3" y="568.8" width="45.5" height="9.4" fill="#00008f"/>
<rect x="762.3" y="560" width="45.5" height="9.4" fill="#00009f"/>
<rect x="762.3" y="551.2" width="45.5" height="9.4" fill="#0000af"/>
<rect x="762.3" y="542.4" width="45.5" height="9.4" fill="#0000bf"/>
<rect x="762.3" y="533.6" width="45.5" height="9.4" fill="#0000cf"/>
<rect x="762.3" y="524.9" width="45.5" height="9.4" fill="#0000df"/>
<rect x="762.3" y="516.1" width="45.5" height="9.4" fill="#0000ef"/>
<rect x="762.3" y="507.3" width="45.5" height="9.4" fill="#0000ff"/>
<rect x="762.3" y="498.5" width="45.5" height="9.4" fill="#0010ff"/>
<rect x="762.3" y="489.7" width="45.5" height="9.4" fill="#0020ff"/>
<rect x="762.3" y="480.9" width="45.5" height="9.4" fill="#0030ff"/>
<rect x="762.3" y="472.1" width="45.5" height="9.4" fill="#0040ff"/>
<rect x="762.3" y="463.3" width="45.5" height="9.4" fill="#0050ff"/>
<rect x="762.3" y="454.5" width="45.5" height="9.4" fill="#0060ff"/>
<rect x="762.3" y="445.7" width="45.5" height="9.4" fill="#0070ff"/>
<rect x="762.3" y="437" width="45.5" height="9.4" fill="#0080ff"/>
<rect x="762.3" y="428.2" width="45.5" height="9.4" fill="#008fff"/>
<rect x="762.3" y="419.4" width="45.5" height="9.4" fill="#009fff"/>
<rect x="762.3" y="410.6" width="45.5" height="9.4" fill="#00afff"/>
<rect x="762.3" y="401.8" width="45.5" height="9.4" fill="#00bfff"/>
<rect x="762.3" y="393" width="45.5" height="9.4" fill="#00cfff"/>
<rect x="762.3" y="384.2" width="45.5" height="9.4" fill="#00dfff"/>
<rect x="762.3" y="375.4" width="45.5" height="9.4" fill="#00efff"/>
<rect x="762.3" y="366.6" width="45.5" height="9.4" fill="#00ffff"/>
<rect x="762.3" y="357.8" width="45.5" height="9.4" fill="#10ffef"/>
<rect x="762.3" y="349" width="45.5" height="9.4" fill="#20ffdf"/>
<rect x="762.3" y="340.3" width="45.5" height="9.4" fill="#30ffcf"/>
<rect x="762.3" y="331.5" width="45.5" height="9.4" fill="#40ffbf"/>
<rect x="762.3" y="322.7" width="45.5" height="9.4" fill="#50ffaf"/>
<rect x="762.3" y="313.9" width="45.5" height="9.4" fill="#60ff9f"/>
<rect x="762.3" y="305.1" width="45.5" height="9.4" fill="#70ff8f"/>
<rect x="762.3" y="296.3" width="45.5" height="9.4" fill="#80ff80"/>
<rect x="762.3" y="287.5" width="45.5" height="9.4" fill="#8fff70"/>
<rect x="762.3" y="278.7" width="45.5" height="9.4" fill="#9fff60"/>
<rect x="762.3" y="269.9" width="45.5" height="9.4" fill="#afff50"/>
<rect x="762.3" y="261.1" width="45.5" height="9.4" fill="#bfff40"/>
<rect x="762.3" y="252.3" width="45.5" height="9.4" fill="#cfff30"/>
<rect x="762.3" y="243.6" width="45.5" height="9.4" fill="#dfff20"/>
<rect x="762.3" y="234.8" width="45.5" height="9.4" fill="#efff10"/>
<rect x="762.3" y="226" width="45.5" height="9.4" fill="#ffff00"/>
<rect x="762.3" y="217.2" width="45.5" height="9.4" fill="#ffef00"/>
<rect x="762.3" y="208.4" width="45.5" height="9.4" fill="#ffdf00"/>
<rect x="762.3" y="199.6" width="45.5" height="9.4" fill="#ffcf00"/>
<rect x="762.3" y="190.8" width="45.5" height="9.4" fill="#ffbf00"/>
<rect x="762.3" y="182" width="45.5" height="9.4" fill="#ffaf00"/>
<rect x="762.3" y="173.2" width="45.5" height="9.4" fill="#ff9f00"/>
<rect x="762.3" y="164.4" width="45.5" height="9.4" fill="#ff8f00"/>
<rect x="762.3" y="155.6" width="45.5" height="9.4" fill="#ff8000"/>
<rect x="762.3" y="146.9" width="45.5" height="9.4" fill="#ff7000"/>
<rect x="762.3" y="138.1" width="45.5" height="9.4" fill="#ff6000"/>
<rect x="762.3" y="129.3" width="45.5" height="9.4" fill="#ff5000"/>
<rect x="762.3" y="120.5" width="45.5" height="9.4" fill="#ff4000"/>
<rect x="762.3" y="111.7" width="45.5" height="9.4" fill="#ff3000"/>
<rect x="762.3" y="102.9" width="45.5" height="9.4" fill="#ff2000"/>
<rect x="762.3" y="94.1" width="45.5" height="9.4" fill="#ff1000"/>
<rect x="762.3" y="85.3" width="45.5" height="9.4" fill="#ff0000"/>
<rect x="762.3" y="76.5" width="45.5" height="9.4" fill="#ef0000"/>
<rect x="762.3" y="67.7" width="45.5" height="9.4" fill="#df0000"/>
<rect x="762.3" y="59" width="45.5" height="9.4" fill="#cf0000"/>
<rect x="762.3" y="50.2" width="45.5" height="9.4" fill="#bf0000"/>
<rect x="762.3" y="41.4" width="45.5" height="9.4" fill="#af0000"/>
<rect x="762.3" y="32.6" width="45.5" height="9.4" fill="#9f0000"/>
<rect x="762.3" y="23.8" width="45.5" height="9.4" fill="#8f0000"/>
<rect x="762.3" y="15" width="45.5" height="9.4" fill="#800000"/>
<rect x="762.3" y="15" width="45.5" height="562.6" fill="none" stroke="#000" stroke-width="1.2"/>
<path d="M762.3 102.7h5M807.8 102.7h-5" stroke="#000" stroke-width="1.2"/>
<path d="M762.3 190.5h5M807.8 190.5h-5" stroke="#000" stroke-width="1.2"/>
<path d="M762.3 278.2h5M807.8 278.2h-5" stroke="#000" stroke-width="1.2"/>
<path d="M762.3 365.9h5M807.8 365.9h-5" stroke="#000" stroke-width="1.2"/>
<path d="M762.3 453.7h5M807.8 453.7h-5" stroke="#000" stroke-width="1.2"/>
<path d="M762.3 541.4h5M807.8 541.4h-5" stroke="#000" stroke-width="1.2"/>
<text transform="translate(811.7 113.4) scale(1 1.05)" class="t">0.17</text>
<text transform="translate(811.7 201.2) scale(1 1.05)" class="t">0.16</text>
<text transform="translate(811.7 288.9) scale(1 1.05)" class="t">0.15</text>
<text transform="translate(811.7 376.6) scale(1 1.05)" class="t">0.14</text>
<text transform="translate(811.7 464.4) scale(1 1.05)" class="t">0.13</text>
<text transform="translate(811.7 552.1) scale(1 1.05)" class="t">0.12</text>
<text transform="translate(811.7 25.5) scale(1 1.05)" class="t">0.18</text>
<rect x="1676" y="568.8" width="45" height="9.4" fill="#00008f"/>
<rect x="1676" y="560" width="45" height="9.4" fill="#00009f"/>
<rect x="1676" y="551.2" width="45" height="9.4" fill="#0000af"/>
<rect x="1676" y="542.4" width="45" height="9.4" fill="#0000bf"/>
<rect x="1676" y="533.6" width="45" height="9.4" fill="#0000cf"/>
<rect x="1676" y="524.9" width="45" height="9.4" fill="#0000df"/>
<rect x="1676" y="516.1" width="45" height="9.4" fill="#0000ef"/>
<rect x="1676" y="507.3" width="45" height="9.4" fill="#0000ff"/>
<rect x="1676" y="498.5" width="45" height="9.4" fill="#0010ff"/>
<rect x="1676" y="489.7" width="45" height="9.4" fill="#0020ff"/>
<rect x="1676" y="480.9" width="45" height="9.4" fill="#0030ff"/>
<rect x="1676" y="472.1" width="45" height="9.4" fill="#0040ff"/>
<rect x="1676" y="463.3" width="45" height="9.4" fill="#0050ff"/>
<rect x="1676" y="454.5" width="45" height="9.4" fill="#0060ff"/>
<rect x="1676" y="445.7" width="45" height="9.4" fill="#0070ff"/>
<rect x="1676" y="437" width="45" height="9.4" fill="#0080ff"/>
<rect x="1676" y="428.2" width="45" height="9.4" fill="#008fff"/>
<rect x="1676" y="419.4" width="45" height="9.4" fill="#009fff"/>
<rect x="1676" y="410.6" width="45" height="9.4" fill="#00afff"/>
<rect x="1676" y="401.8" width="45" height="9.4" fill="#00bfff"/>
<rect x="1676" y="393" width="45" height="9.4" fill="#00cfff"/>
<rect x="1676" y="384.2" width="45" height="9.4" fill="#00dfff"/>
<rect x="1676" y="375.4" width="45" height="9.4" fill="#00efff"/>
<rect x="1676" y="366.6" width="45" height="9.4" fill="#00ffff"/>
<rect x="1676" y="357.8" width="45" height="9.4" fill="#10ffef"/>
<rect x="1676" y="349" width="45" height="9.4" fill="#20ffdf"/>
<rect x="1676" y="340.3" width="45" height="9.4" fill="#30ffcf"/>
<rect x="1676" y="331.5" width="45" height="9.4" fill="#40ffbf"/>
<rect x="1676" y="322.7" width="45" height="9.4" fill="#50ffaf"/>
<rect x="1676" y="313.9" width="45" height="9.4" fill="#60ff9f"/>
<rect x="1676" y="305.1" width="45" height="9.4" fill="#70ff8f"/>
<rect x="1676" y="296.3" width="45" height="9.4" fill="#80ff80"/>
<rect x="1676" y="287.5" width="45" height="9.4" fill="#8fff70"/>
<rect x="1676" y="278.7" width="45" height="9.4" fill="#9fff60"/>
<rect x="1676" y="269.9" width="45" height="9.4" fill="#afff50"/>
<rect x="1676" y="261.1" width="45" height="9.4" fill="#bfff40"/>
<rect x="1676" y="252.3" width="45" height="9.4" fill="#cfff30"/>
<rect x="1676" y="243.6" width="45" height="9.4" fill="#dfff20"/>
<rect x="1676" y="234.8" width="45" height="9.4" fill="#efff10"/>
<rect x="1676" y="226" width="45" height="9.4" fill="#ffff00"/>
<rect x="1676" y="217.2" width="45" height="9.4" fill="#ffef00"/>
<rect x="1676" y="208.4" width="45" height="9.4" fill="#ffdf00"/>
<rect x="1676" y="199.6" width="45" height="9.4" fill="#ffcf00"/>
<rect x="1676" y="190.8" width="45" height="9.4" fill="#ffbf00"/>
<rect x="1676" y="182" width="45" height="9.4" fill="#ffaf00"/>
<rect x="1676" y="173.2" width="45" height="9.4" fill="#ff9f00"/>
<rect x="1676" y="164.4" width="45" height="9.4" fill="#ff8f00"/>
<rect x="1676" y="155.6" width="45" height="9.4" fill="#ff8000"/>
<rect x="1676" y="146.9" width="45" height="9.4" fill="#ff7000"/>
<rect x="1676" y="138.1" width="45" height="9.4" fill="#ff6000"/>
<rect x="1676" y="129.3" width="45" height="9.4" fill="#ff5000"/>
<rect x="1676" y="120.5" width="45" height="9.4" fill="#ff4000"/>
<rect x="1676" y="111.7" width="45" height="9.4" fill="#ff3000"/>
<rect x="1676" y="102.9" width="45" height="9.4" fill="#ff2000"/>
<rect x="1676" y="94.1" width="45" height="9.4" fill="#ff1000"/>
<rect x="1676" y="85.3" width="45" height="9.4" fill="#ff0000"/>
<rect x="1676" y="76.5" width="45" height="9.4" fill="#ef0000"/>
<rect x="1676" y="67.7" width="45" height="9.4" fill="#df0000"/>
<rect x="1676" y="59" width="45" height="9.4" fill="#cf0000"/>
<rect x="1676" y="50.2" width="45" height="9.4" fill="#bf0000"/>
<rect x="1676" y="41.4" width="45" height="9.4" fill="#af0000"/>
<rect x="1676" y="32.6" width="45" height="9.4" fill="#9f0000"/>
<rect x="1676" y="23.8" width="45" height="9.4" fill="#8f0000"/>
<rect x="1676" y="15" width="45" height="9.4" fill="#800000"/>
<rect x="1676" y="15" width="45" height="562.6" fill="none" stroke="#000" stroke-width="1.2"/>
<path d="M1676 127.7h5M1721 127.7h-5" stroke="#000" stroke-width="1.2"/>
<path d="M1676 240.4h5M1721 240.4h-5" stroke="#000" stroke-width="1.2"/>
<path d="M1676 353.1h5M1721 353.1h-5" stroke="#000" stroke-width="1.2"/>
<path d="M1676 465.8h5M1721 465.8h-5" stroke="#000" stroke-width="1.2"/>
<text transform="translate(1725.5 138.4) scale(1 1.05)" class="t">2</text>
<text transform="translate(1725.5 251.1) scale(1 1.05)" class="t">1.5</text>
<text transform="translate(1725.5 363.8) scale(1 1.05)" class="t">1</text>
<text transform="translate(1725.5 476.5) scale(1 1.05)" class="t">0.5</text>
<text transform="translate(1725.5 25) scale(1 1.05)" class="t">2.5</text>
<text transform="translate(116 25.2) scale(1 1.05)" class="t" text-anchor="end">0.16</text>
<text transform="translate(1030.5 25.2) scale(1 1.05)" class="t" text-anchor="end">0.16</text>
<text transform="translate(116 137.1) scale(1 1.05)" class="t" text-anchor="end">0.15</text>
<text transform="translate(1030.5 137.1) scale(1 1.05)" class="t" text-anchor="end">0.15</text>
<text transform="translate(116 249.8) scale(1 1.05)" class="t" text-anchor="end">0.14</text>
<text transform="translate(1030.5 249.8) scale(1 1.05)" class="t" text-anchor="end">0.14</text>
<text transform="translate(116 362.5) scale(1 1.05)" class="t" text-anchor="end">0.13</text>
<text transform="translate(1030.5 362.5) scale(1 1.05)" class="t" text-anchor="end">0.13</text>
<text transform="translate(116 475.1) scale(1 1.05)" class="t" text-anchor="end">0.12</text>
<text transform="translate(1030.5 475.1) scale(1 1.05)" class="t" text-anchor="end">0.12</text>
<text transform="translate(116 585) scale(1 1.05)" class="t" text-anchor="end">0.11</text>
<text transform="translate(1030.5 585) scale(1 1.05)" class="t" text-anchor="end">0.11</text>
<text transform="translate(121.2 608.5) scale(1 1.05)" class="t" text-anchor="middle">0.39</text>
<text transform="translate(243.1 608.5) scale(1 1.05)" class="t" text-anchor="middle">0.4</text>
<text transform="translate(364 608.5) scale(1 1.05)" class="t" text-anchor="middle">0.41</text>
<text transform="translate(485 608.5) scale(1 1.05)" class="t" text-anchor="middle">0.42</text>
<text transform="translate(605.9 608.5) scale(1 1.05)" class="t" text-anchor="middle">0.43</text>
<text transform="translate(727 608.5) scale(1 1.05)" class="t" text-anchor="middle">0.44</text>
<text transform="translate(1035.5 608.5) scale(1 1.05)" class="t" text-anchor="middle">0.39</text>
<text transform="translate(1157.3 608.5) scale(1 1.05)" class="t" text-anchor="middle">0.4</text>
<text transform="translate(1278.3 608.5) scale(1 1.05)" class="t" text-anchor="middle">0.41</text>
<text transform="translate(1399.2 608.5) scale(1 1.05)" class="t" text-anchor="middle">0.42</text>
<text transform="translate(1520.2 608.5) scale(1 1.05)" class="t" text-anchor="middle">0.43</text>
<text transform="translate(1641.2 608.5) scale(1 1.05)" class="t" text-anchor="middle">0.44</text>
<text x="424" y="644" class="t" text-anchor="middle">Separation between Adjacent Grid Wires (d<tspan dx="1.5" dy="13" font-size="23">x</tspan><tspan dx="3" dy="-13">) in mm</tspan></text>
<text x="1338" y="644" class="t" text-anchor="middle">Separation between Adjacent Grid Wires (d<tspan dx="1.5" dy="13" font-size="23">x</tspan><tspan dx="3" dy="-13">) in mm</tspan></text>
<text transform="translate(26.3 296.5) rotate(-90)" class="t" text-anchor="middle">Separation from Cathode to Grid (d<tspan dx="1.5" dy="13" font-size="23">z</tspan><tspan dx="3" dy="-13">) in mm</tspan></text>
<text transform="translate(941 296.5) rotate(-90)" class="t" text-anchor="middle">Separation from Cathode to Grid (d<tspan dx="1.5" dy="13" font-size="23">z</tspan><tspan dx="3" dy="-13">) in mm</tspan></text>
<text x="427" y="691" class="p" text-anchor="middle">(a)</text>
<text x="1341" y="691" class="p" text-anchor="middle">(b)</text>
</svg>
</body></html>
